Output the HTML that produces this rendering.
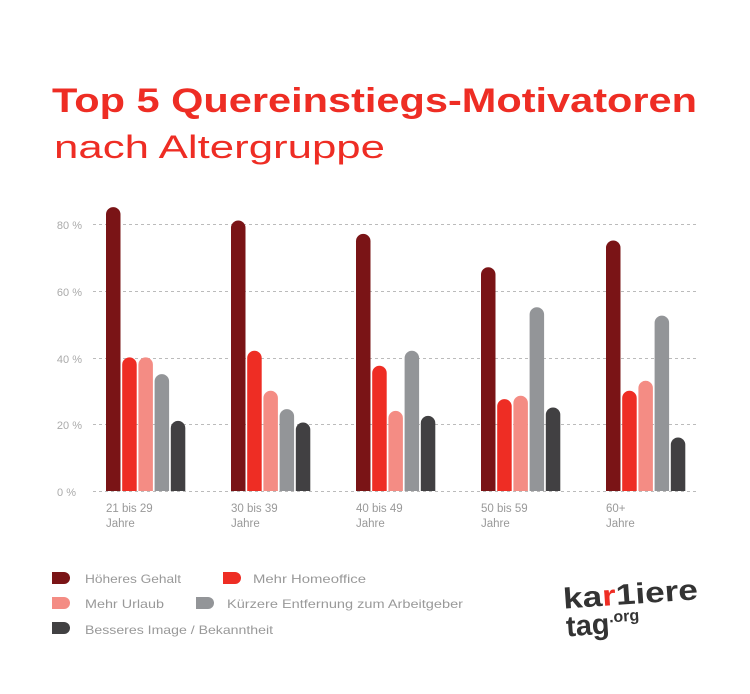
<!DOCTYPE html>
<html><head><meta charset="utf-8"><style>
body{margin:0;background:#fff;width:750px;height:689px;overflow:hidden;font-family:"Liberation Sans",sans-serif}
</style></head><body>
<svg width="750" height="689" xmlns="http://www.w3.org/2000/svg" font-family="Liberation Sans, sans-serif">
<text x="52" y="112" font-size="34" font-weight="bold" fill="#ee2d24" textLength="645" lengthAdjust="spacingAndGlyphs">Top 5 Quereinstiegs-Motivatoren</text>
<text x="54" y="158" font-size="32" fill="#ee2d24" textLength="331" lengthAdjust="spacingAndGlyphs">nach Altergruppe</text>
<g stroke="#bbb" stroke-dasharray="3,3" stroke-width="1">
<line x1="93" x2="697" y1="224.5" y2="224.5"/><line x1="93" x2="697" y1="291.5" y2="291.5"/>
<line x1="93" x2="697" y1="358.5" y2="358.5"/><line x1="93" x2="697" y1="424.5" y2="424.5"/>
<line x1="93" x2="697" y1="491.5" y2="491.5"/></g>
<g font-size="11" fill="#aaa" text-anchor="end">
<text x="82" y="229">80 %</text><text x="82" y="296">60 %</text><text x="82" y="363">40 %</text><text x="82" y="429">20 %</text><text x="76" y="496">0 %</text></g>
<g>
<path fill="#7a1416" d="M106 491V214.35a7.25 7.25 0 0 1 14.5 0V491z"/>
<path fill="#ee2d24" d="M122.2 491V364.65a7.25 7.25 0 0 1 14.5 0V491z"/>
<path fill="#f48c84" d="M138.4 491V364.65a7.25 7.25 0 0 1 14.5 0V491z"/>
<path fill="#939598" d="M154.6 491V381.35a7.25 7.25 0 0 1 14.5 0V491z"/>
<path fill="#414042" d="M170.8 491V428.11a7.25 7.25 0 0 1 14.5 0V491z"/>
<path fill="#7a1416" d="M231 491V227.71a7.25 7.25 0 0 1 14.5 0V491z"/>
<path fill="#ee2d24" d="M247.2 491V357.97a7.25 7.25 0 0 1 14.5 0V491z"/>
<path fill="#f48c84" d="M263.4 491V398.05a7.25 7.25 0 0 1 14.5 0V491z"/>
<path fill="#939598" d="M279.6 491V416.42a7.25 7.25 0 0 1 14.5 0V491z"/>
<path fill="#414042" d="M295.8 491V429.78a7.25 7.25 0 0 1 14.5 0V491z"/>
<path fill="#7a1416" d="M356 491V241.07a7.25 7.25 0 0 1 14.5 0V491z"/>
<path fill="#ee2d24" d="M372.2 491V373a7.25 7.25 0 0 1 14.5 0V491z"/>
<path fill="#f48c84" d="M388.4 491V418.09a7.25 7.25 0 0 1 14.5 0V491z"/>
<path fill="#939598" d="M404.6 491V357.97a7.25 7.25 0 0 1 14.5 0V491z"/>
<path fill="#414042" d="M420.8 491V423.1a7.25 7.25 0 0 1 14.5 0V491z"/>
<path fill="#7a1416" d="M481 491V274.47a7.25 7.25 0 0 1 14.5 0V491z"/>
<path fill="#ee2d24" d="M497.2 491V406.4a7.25 7.25 0 0 1 14.5 0V491z"/>
<path fill="#f48c84" d="M513.4 491V403.06a7.25 7.25 0 0 1 14.5 0V491z"/>
<path fill="#939598" d="M529.6 491V314.55a7.25 7.25 0 0 1 14.5 0V491z"/>
<path fill="#414042" d="M545.8 491V414.75a7.25 7.25 0 0 1 14.5 0V491z"/>
<path fill="#7a1416" d="M606 491V247.75a7.25 7.25 0 0 1 14.5 0V491z"/>
<path fill="#ee2d24" d="M622.2 491V398.05a7.25 7.25 0 0 1 14.5 0V491z"/>
<path fill="#f48c84" d="M638.4 491V388.03a7.25 7.25 0 0 1 14.5 0V491z"/>
<path fill="#939598" d="M654.6 491V322.9a7.25 7.25 0 0 1 14.5 0V491z"/>
<path fill="#414042" d="M670.8 491V444.81a7.25 7.25 0 0 1 14.5 0V491z"/>
</g>
<g font-size="11.5" fill="#999">
<text x="106" y="512">21 bis 29</text><text x="106" y="527">Jahre</text>
<text x="231" y="512">30 bis 39</text><text x="231" y="527">Jahre</text>
<text x="356" y="512">40 bis 49</text><text x="356" y="527">Jahre</text>
<text x="481" y="512">50 bis 59</text><text x="481" y="527">Jahre</text>
<text x="606" y="512">60+</text><text x="606" y="527">Jahre</text></g>
<g font-size="12" fill="#999">
<path d="M52 572h12a6 6 0 0 1 0 12h-12z" fill="#7a1416"/><text x="85" y="583" textLength="96" lengthAdjust="spacingAndGlyphs">Höheres Gehalt</text>
<path d="M223 572h12a6 6 0 0 1 0 12h-12z" fill="#ee2d24"/><text x="253" y="583" textLength="113" lengthAdjust="spacingAndGlyphs">Mehr Homeoffice</text>
<path d="M52 597h12a6 6 0 0 1 0 12h-12z" fill="#f48c84"/><text x="85" y="608" textLength="79" lengthAdjust="spacingAndGlyphs">Mehr Urlaub</text>
<path d="M196 597h12a6 6 0 0 1 0 12h-12z" fill="#939598"/><text x="227" y="608" textLength="236" lengthAdjust="spacingAndGlyphs">Kürzere Entfernung zum Arbeitgeber</text>
<path d="M52 622h12a6 6 0 0 1 0 12h-12z" fill="#414042"/><text x="85" y="634" textLength="188" lengthAdjust="spacingAndGlyphs">Besseres Image / Bekanntheit</text></g>
<g font-weight="bold" fill="#333">
<text x="564" y="604" font-size="29" transform="rotate(-4 630 610)" textLength="135" lengthAdjust="spacingAndGlyphs">ka<tspan fill="#ee2d24">r</tspan>1iere</text>
<text x="565" y="632" font-size="29" transform="rotate(-4 630 610)">tag<tspan font-size="16" dy="-11">.org</tspan></text>
</g>
</svg>
</body></html>
